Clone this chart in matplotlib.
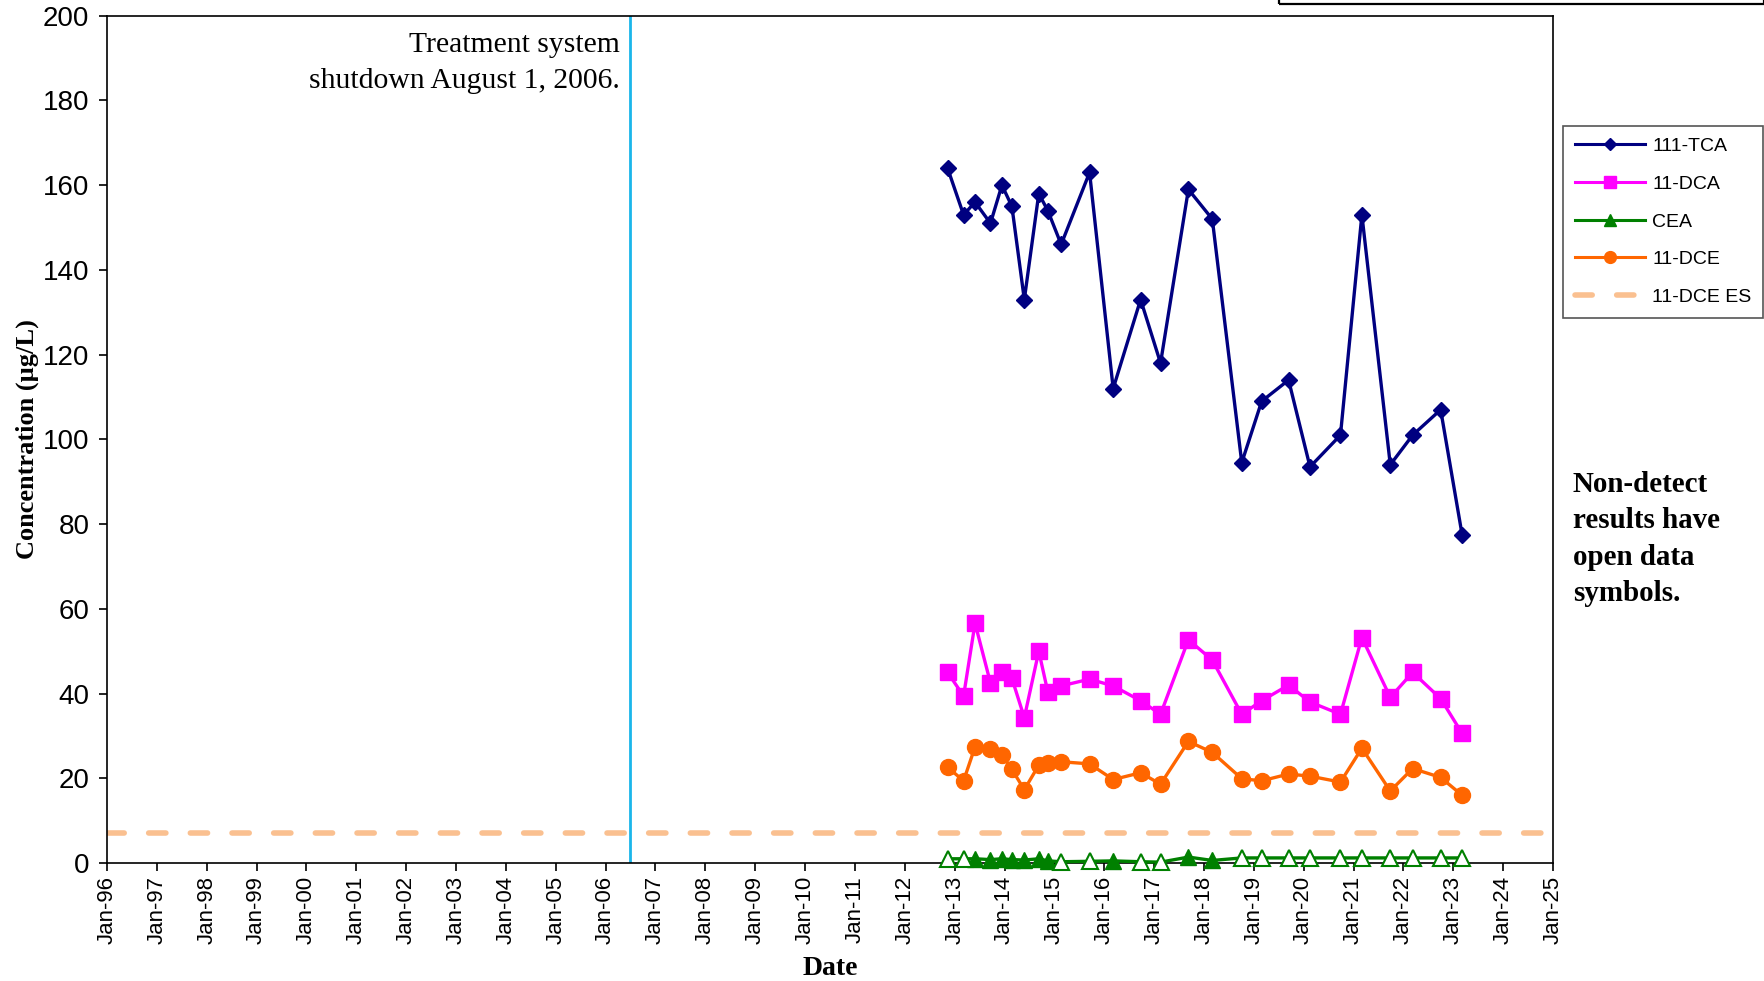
#!/usr/bin/env python3

import numpy as np
import matplotlib
matplotlib.use("Agg")
import matplotlib.pyplot as plt
import matplotlib.dates as mdates
import matplotlib.patches as mpatches
from matplotlib.lines import Line2D

# sample dates
dates = ["2012-11-10", "2013-03-07", "2013-05-30", "2013-09-20", "2013-12-13",
         "2014-02-24", "2014-05-26", "2014-09-09", "2014-11-14", "2015-02-20",
         "2015-09-16", "2016-03-07", "2016-09-24", "2017-02-17", "2017-09-09",
         "2018-03-03", "2018-10-05", "2019-02-28", "2019-09-13", "2020-02-17",
         "2020-09-27", "2021-03-03", "2021-09-27", "2022-03-10", "2022-10-01",
         "2023-03-07"]

tca_111 = [164, 153, 156, 151, 160, 155, 133, 158, 154, 146, 163, 112, 133,
           118, 159, 152, 94.5, 109, 114, 93.5, 101, 153, 94, 101, 107, 77.5]
dca_11 = [45, 39.4, 56.6, 42.5, 45.2, 43.6, 34.3, 50, 40.4, 41.8, 43.4, 41.8,
          38.3, 35.1, 52.7, 47.9, 35.1, 38.3, 42, 38, 35.1, 53.2, 39.1, 45,
          38.8, 30.6]
dce_11 = [22.6, 19.4, 27.4, 26.9, 25.5, 22.1, 17.3, 23.1, 23.7, 23.9, 23.4,
          19.7, 21.3, 18.6, 28.7, 26.1, 19.9, 19.4, 21, 20.5, 19.1, 27.1, 17,
          22.3, 20.2, 16]
cea = [1.0, 1.0, 1.0, 0.8, 1.0, 0.8, 0.7, 1.0, 0.5, 0.3, 0.4, 0.5, 0.3, 0.2,
       1.4, 0.6, 1.2, 1.2, 1.2, 1.2, 1.2, 1.2, 1.2, 1.2, 1.2, 1.2]
# False = non-detect (open symbol)
cea_detect = [False, False, True, True, True, True, True, True, True, False,
              False, True, False, False, True, True, False, False, False,
              False, False, False, False, False, False, False]

dce_es = 7
shutdown_date = "2006-07-01"
x_start, x_end = "1996-01-01", "2025-01-01"
y_ticks = list(range(0, 201, 20))

colors = dict(tca="#000080", dca="#FF00FF", cea="#008000", dce="#FF6600",
              es="#FAC090", shutdown="#1AB6EA")

serif = ["Liberation Serif", "DejaVu Serif"]
sans = ["Liberation Sans", "DejaVu Sans"]


def plot(ax):
    x = np.array(dates, dtype="datetime64[D]")
    lw = 2.4

    ax.axvline(np.datetime64(shutdown_date), color=colors["shutdown"], lw=2, zorder=1)
    ax.axhline(dce_es, color=colors["es"], lw=4, dashes=(3.1, 4.4),
               dash_capstyle="round", zorder=1)

    ax.plot(x, tca_111, color=colors["tca"], lw=lw, marker="D", ms=8.5, zorder=3)
    ax.plot(x, dca_11, color=colors["dca"], lw=lw, marker="s", ms=11, zorder=3)
    ax.plot(x, dce_11, color=colors["dce"], lw=lw, marker="o", ms=11.5, zorder=3)

    # CEA: filled = detect, open = non-detect
    det = np.array(cea_detect)
    cv = np.array(cea)
    ax.plot(x, cv, color=colors["cea"], lw=lw, zorder=3, clip_on=False)
    ax.plot(x[det], cv[det], ls="none", marker="^", ms=11,
            color=colors["cea"], zorder=4, clip_on=False)
    ax.plot(x[~det], cv[~det], ls="none", marker="^", ms=11, mfc="white",
            mec=colors["cea"], mew=1.5, zorder=4, clip_on=False)

    ax.set_xlim(np.datetime64(x_start), np.datetime64(x_end))
    ax.set_ylim(0, 200)
    ax.set_yticks(y_ticks)
    ax.xaxis.set_major_locator(mdates.YearLocator(1, month=1, day=1))
    ax.xaxis.set_major_formatter(mdates.DateFormatter("%b-%y"))
    ax.tick_params(axis="x", rotation=90, labelsize=16, length=6, width=1.2)
    ax.tick_params(axis="y", labelsize=20, length=6, width=1.2, pad=6.7)
    for lab in ax.get_xticklabels() + ax.get_yticklabels():
        lab.set_family(sans)
    for sp in ax.spines.values():
        sp.set_linewidth(1.2)

    ax.set_ylabel("Concentration (µg/L)", family=serif, fontsize=19,
                  fontweight="bold", labelpad=2.5)
    ax.set_xlabel("Date", family=serif, fontsize=20, fontweight="bold", labelpad=8)


def main():
    W, H = 1765, 981
    fig = plt.figure(figsize=(W / 100, H / 100), dpi=100)
    ax = fig.add_axes([107 / W, 1 - 863 / H, (1553 - 107) / W, (863 - 15.7) / H])

    plot(ax)

    fig.text(620 / W, 1 - 63 / H, "Treatment system\nshutdown August 1, 2006.",
             ha="right", va="center", multialignment="right", family=serif,
             fontsize=21.3, linespacing=1.5)
    fig.text(1573 / W, 1 - 539 / H, "Non-detect\nresults have\nopen data\nsymbols.",
             ha="left", va="center", family=serif, fontsize=20.9,
             fontweight="bold", linespacing=1.43)

    # partial box at the top right edge
    fig.patches.append(mpatches.Rectangle((1279 / W, 1 - 4 / H), (1764 - 1279) / W, 0.05,
                                          transform=fig.transFigure, fill=False,
                                          edgecolor="black", lw=1.6))

    parts = [
        Line2D([], [], color=colors["tca"], lw=2.2, marker="D", ms=6, label="111-TCA"),
        Line2D([], [], color=colors["dca"], lw=2.2, marker="s", ms=8, label="11-DCA"),
        Line2D([], [], color=colors["cea"], lw=2.2, marker="^", ms=8, label="CEA"),
        Line2D([], [], color=colors["dce"], lw=2.2, marker="o", ms=8.5, label="11-DCE"),
        Line2D([], [], color=colors["es"], lw=4, dashes=(3.1, 4.4),
               dash_capstyle="round", label="11-DCE ES"),
    ]
    leg = fig.legend(handles=parts, loc="upper left",
                     bbox_to_anchor=(1563 / W, 1 - 126 / H),
                     bbox_transform=fig.transFigure, borderaxespad=0,
                     prop=dict(family=sans, size=14), handlelength=3.6,
                     labelspacing=1.03, handletextpad=0.4, borderpad=0.6,
                     fancybox=False, framealpha=1)
    leg.get_frame().set_edgecolor("#555555")
    leg.get_frame().set_linewidth(1.2)

    fig.savefig("out.png", dpi=100)


if __name__ == "__main__":
    main()
